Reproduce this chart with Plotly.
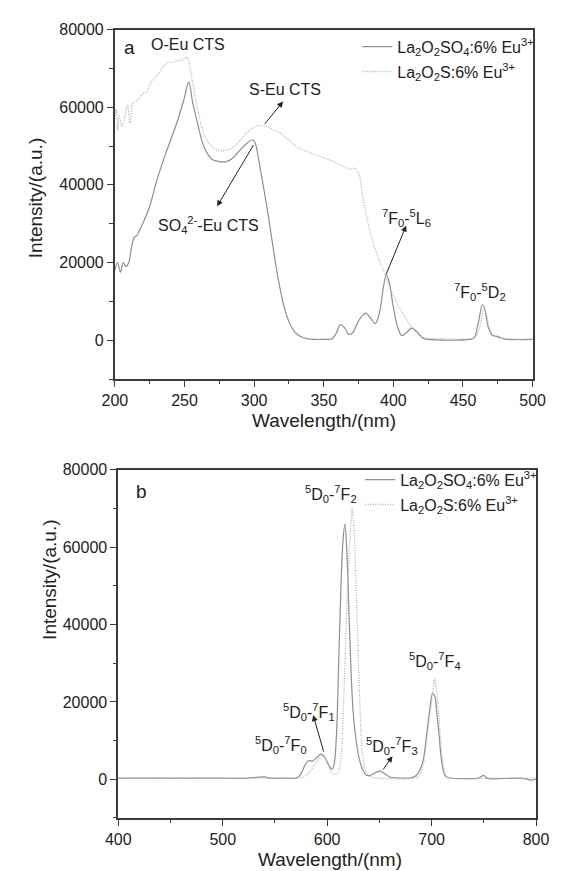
import plotly.graph_objects as go

# ---------------- Data: panel a (excitation) ----------------
exc_so4_x = [200, 202, 204, 206, 208, 210, 212, 214, 216, 218, 220, 225, 230, 235, 240, 245, 250, 253, 256, 259,
             262, 265, 270, 275, 280, 285, 290, 295, 299, 301, 303, 306, 310, 314, 318, 322, 326, 330, 335, 340,
             350, 356, 359, 362, 365, 368, 371, 375, 380, 384, 387, 390, 393, 395, 397, 400, 403, 406, 409, 413,
             417, 421, 425, 455, 458, 461, 464, 466, 468, 471, 475, 480, 500]
exc_so4_y = [18000, 20000, 17500, 20000, 19000, 20000, 24000, 26500, 27000, 28500, 30000, 34500, 41000, 46500, 51500,
             56500, 62500, 66500, 61000, 56500, 52000, 49000, 46500, 46000, 46000, 47000, 49000, 50800, 51600, 50500,
             47000, 41000, 32500, 23000, 14500, 8000, 4000, 1800, 700, 300, 200, 400, 1800, 4000, 3200, 1500, 2000,
             5000, 7000, 5500, 4300, 7000, 14000, 16800, 15000, 8500, 3500, 1200, 1800, 3100, 2200, 600, 200, 200,
             600, 4500, 9200, 7500, 3500, 1300, 1000, 300, 200]

exc_s_x = [200, 201, 202, 203, 205, 207, 209, 211, 213, 215, 218, 220, 223, 226, 229, 232, 235, 238, 241, 244, 247,
           250, 252, 254, 257, 260, 264, 268, 272, 276, 280, 285, 290, 295, 300, 305, 310, 315, 320, 325, 330, 335,
           340, 345, 350, 355, 360, 365, 369, 372, 375, 378, 381, 384, 387, 390, 394, 398, 402, 406, 410, 414, 418,
           422, 426, 455, 459, 462, 465, 467, 469, 472, 476, 480, 500]
exc_s_y = [57000, 59500, 54000, 58000, 55000, 57500, 60500, 56000, 61000, 61500, 62500, 63500, 64000, 66500, 67500,
           69000, 70500, 71500, 71500, 72000, 72000, 72500, 72800, 70000, 64000, 58500, 53000, 50500, 49200, 48800,
           48900, 49700, 51500, 53500, 54800, 55300, 54800, 54000, 53000, 51500, 50000, 49000, 48300, 47600, 47000,
           46300, 45500, 44600, 44000, 44300, 43000, 37000, 31500, 27000, 23500, 20500, 17000, 13000, 10000, 7500,
           5000, 3000, 1500, 700, 500, 400, 800, 3500, 8000, 6500, 3000, 1200, 600, 400, 300]

# ---------------- Data: panel b (emission) ----------------
em_so4_x = [400, 450, 500, 520, 540, 545, 560, 570, 574, 578, 582, 586, 590, 594, 597, 600, 603, 605, 607, 609, 611,
            613, 615, 617, 619, 621, 623, 625, 628, 631, 634, 638, 642, 646, 651, 655, 660, 665, 680, 685, 689, 692,
            695, 698, 701, 703, 705, 707, 709, 711, 713, 716, 730, 745, 750, 753, 770, 785, 790, 795, 800]
em_so4_y = [300, 300, 300, 250, 600, 300, 300, 300, 1000, 3200, 4800, 4700, 5600, 6500, 6000, 4500, 3000, 2600, 4500,
            12000, 30000, 48000, 61000, 66000, 58000, 42000, 27000, 17000, 9500, 5000, 2500, 1000, 1100, 1700, 2100,
            1500, 600, 400, 400, 900, 2500, 5000, 11000, 17500, 22300, 21500, 17000, 12000, 6000, 2500, 900, 400,
            200, 300, 1000, 300, 200, 300, 100, -200, 0]

em_s_x = [400, 500, 560, 575, 580, 584, 588, 592, 595, 598, 601, 604, 607, 610, 613, 616, 618, 620, 622, 624, 626,
          628, 630, 632, 634, 637, 640, 645, 685, 689, 692, 695, 698, 701, 703, 705, 707, 709, 711, 713, 716, 760, 800]
em_s_y = [300, 300, 300, 400, 1000, 2200, 3800, 5200, 6000, 5500, 3500, 1800, 1300, 1500, 5000, 22000, 38000, 52000,
          63000, 70000, 63000, 47000, 30000, 15000, 6500, 2000, 800, 400, 400, 1200, 4000, 9500, 16000, 22500, 26000,
          22000, 16000, 9000, 4000, 1500, 500, 300, 300]

name_so4 = "La<sub>2</sub>O<sub>2</sub>SO<sub>4</sub>:6% Eu<sup>3+</sup>"
name_s = "La<sub>2</sub>O<sub>2</sub>S:6% Eu<sup>3+</sup>"

FONT = "Liberation Sans, Arial, sans-serif"
TXT = "#222222"
AX = "#3c3c3c"
W, H = 562, 871

fig = go.Figure()
solid = dict(color="#8f8f8f", width=1.2)
dotted = dict(color="#b0b0b0", width=1.3, dash="1px,1.5px")

fig.add_trace(go.Scatter(x=exc_so4_x, y=exc_so4_y, mode="lines", name=name_so4, line=solid,
                         line_shape="spline", xaxis="x", yaxis="y", legend="legend", legendgroup="a1"))
fig.add_trace(go.Scatter(x=exc_s_x, y=exc_s_y, mode="lines", name=name_s, line=dotted,
                         line_shape="spline", xaxis="x", yaxis="y", legend="legend", legendgroup="a2"))
fig.add_trace(go.Scatter(x=em_so4_x, y=em_so4_y, mode="lines", name=name_so4, line=solid,
                         line_shape="spline", xaxis="x2", yaxis="y2", legend="legend2", legendgroup="b1"))
fig.add_trace(go.Scatter(x=em_s_x, y=em_s_y, mode="lines", name=name_s, line=dotted,
                         line_shape="spline", xaxis="x2", yaxis="y2", legend="legend2", legendgroup="b2"))

def px_x(p):
    return p / W

def px_y(p):
    return 1 - p / H

axis_common = dict(showgrid=False, zeroline=False, showline=True, linecolor=AX, linewidth=1.8,
                   mirror=True, ticks="outside", ticklen=6, tickwidth=1.4, tickcolor=AX,
                   tickformat="d", tickfont=dict(family=FONT, size=16, color=TXT))
minor_common = dict(ticks="outside", ticklen=3.5, tickwidth=1.2, tickcolor=AX)

fig.update_layout(
    width=W, height=H, margin=dict(l=0, r=0, t=0, b=0),
    paper_bgcolor="white", plot_bgcolor="white",
    font=dict(family=FONT, color=TXT),
    xaxis=dict(domain=[px_x(106.8), px_x(544.8)], range=[200, 500], anchor="y", tick0=200, dtick=50,
               minor=dict(dtick=25, **minor_common), **axis_common),
    yaxis=dict(domain=[px_y(374.5), px_y(21.7)], range=[-10000, 80000], anchor="x", tick0=0, dtick=20000,
               minor=dict(dtick=10000, **minor_common), **axis_common),
    xaxis2=dict(domain=[px_x(110.4), px_x(548.4)], range=[400, 800], anchor="y2", tick0=400, dtick=100,
                minor=dict(dtick=50, **minor_common), **axis_common),
    yaxis2=dict(domain=[px_y(817.5), px_y(466)], range=[-10000, 80000], anchor="x2", tick0=0, dtick=20000,
                minor=dict(dtick=10000, **minor_common), **axis_common),
    legend=dict(x=px_x(361), y=px_y(22), xanchor="left", yanchor="top", bgcolor="rgba(0,0,0,0)",
                font=dict(family=FONT, size=16, color=TXT), tracegroupgap=1),
    legend2=dict(x=px_x(364), y=px_y(459), xanchor="left", yanchor="top", bgcolor="rgba(0,0,0,0)",
                 font=dict(family=FONT, size=16, color=TXT), tracegroupgap=1),
    showlegend=True,
)

ann = []

def label(text, x, y, xr, yr, size=16):
    ann.append(dict(text=text, x=x, y=y, xref=xr, yref=yr, showarrow=False,
                    font=dict(family=FONT, size=size, color=TXT), xanchor="center", yanchor="middle"))

def arrow(x_head, y_head, x_tail, y_tail, xr, yr):
    ann.append(dict(text="", x=x_head, y=y_head, ax=x_tail, ay=y_tail, xref=xr, yref=yr,
                    axref=xr, ayref=yr, showarrow=True, arrowhead=2, arrowsize=1.2, arrowwidth=1,
                    arrowcolor="#222222"))

# panel a labels
label("a", 210.3, 75300, "x", "y", 19)
label("O-Eu CTS", 252.5, 76170, "x", "y")
label("S-Eu CTS", 322.5, 64680, "x", "y")
label("SO<sub>4</sub><sup>2-</sup>-Eu CTS", 267.3, 29790, "x", "y")
label("<sup>7</sup>F<sub>0</sub>-<sup>5</sup>L<sub>6</sub>", 409.2, 31490, "x", "y")
label("<sup>7</sup>F<sub>0</sub>-<sup>5</sup>D<sub>2</sub>", 462.5, 12340, "x", "y")
arrow(320.8, 61450, 306.8, 55320, "x", "y")
arrow(273.4, 34470, 300.2, 50640, "x", "y")
arrow(409.2, 29500, 394.4, 16600, "x", "y")

# panel b labels
label("b", 421.9, 74470, "x2", "y2", 19)
label("<sup>5</sup>D<sub>0</sub>-<sup>7</sup>F<sub>2</sub>", 603.6, 73620, "x2", "y2")
label("<sup>5</sup>D<sub>0</sub>-<sup>7</sup>F<sub>1</sub>", 582.3, 17450, "x2", "y2")
label("<sup>5</sup>D<sub>0</sub>-<sup>7</sup>F<sub>0</sub>", 556.1, 8940, "x2", "y2")
label("<sup>5</sup>D<sub>0</sub>-<sup>7</sup>F<sub>3</sub>", 662.5, 8510, "x2", "y2")
label("<sup>5</sup>D<sub>0</sub>-<sup>7</sup>F<sub>4</sub>", 703.4, 30640, "x2", "y2")
arrow(586.6, 16600, 597.0, 6810, "x2", "y2")
arrow(662.5, 5960, 652.7, 2130, "x2", "y2")

# axis titles
for (t, x, y, ang) in [("Wavelength/(nm)", 326, 416, 0), ("Intensity/(a.u.)", 23, 192, -90),
                       ("Wavelength/(nm)", 332, 859, 0), ("Intensity/(a.u.)", 39, 577, -90)]:
    ann.append(dict(text=t, x=px_x(x), y=px_y(y), xref="paper", yref="paper", showarrow=False,
                    textangle=ang, font=dict(family=FONT, size=19, color=TXT),
                    xanchor="center", yanchor="middle"))

fig.update_layout(annotations=ann)
fig.write_html("out.html")
